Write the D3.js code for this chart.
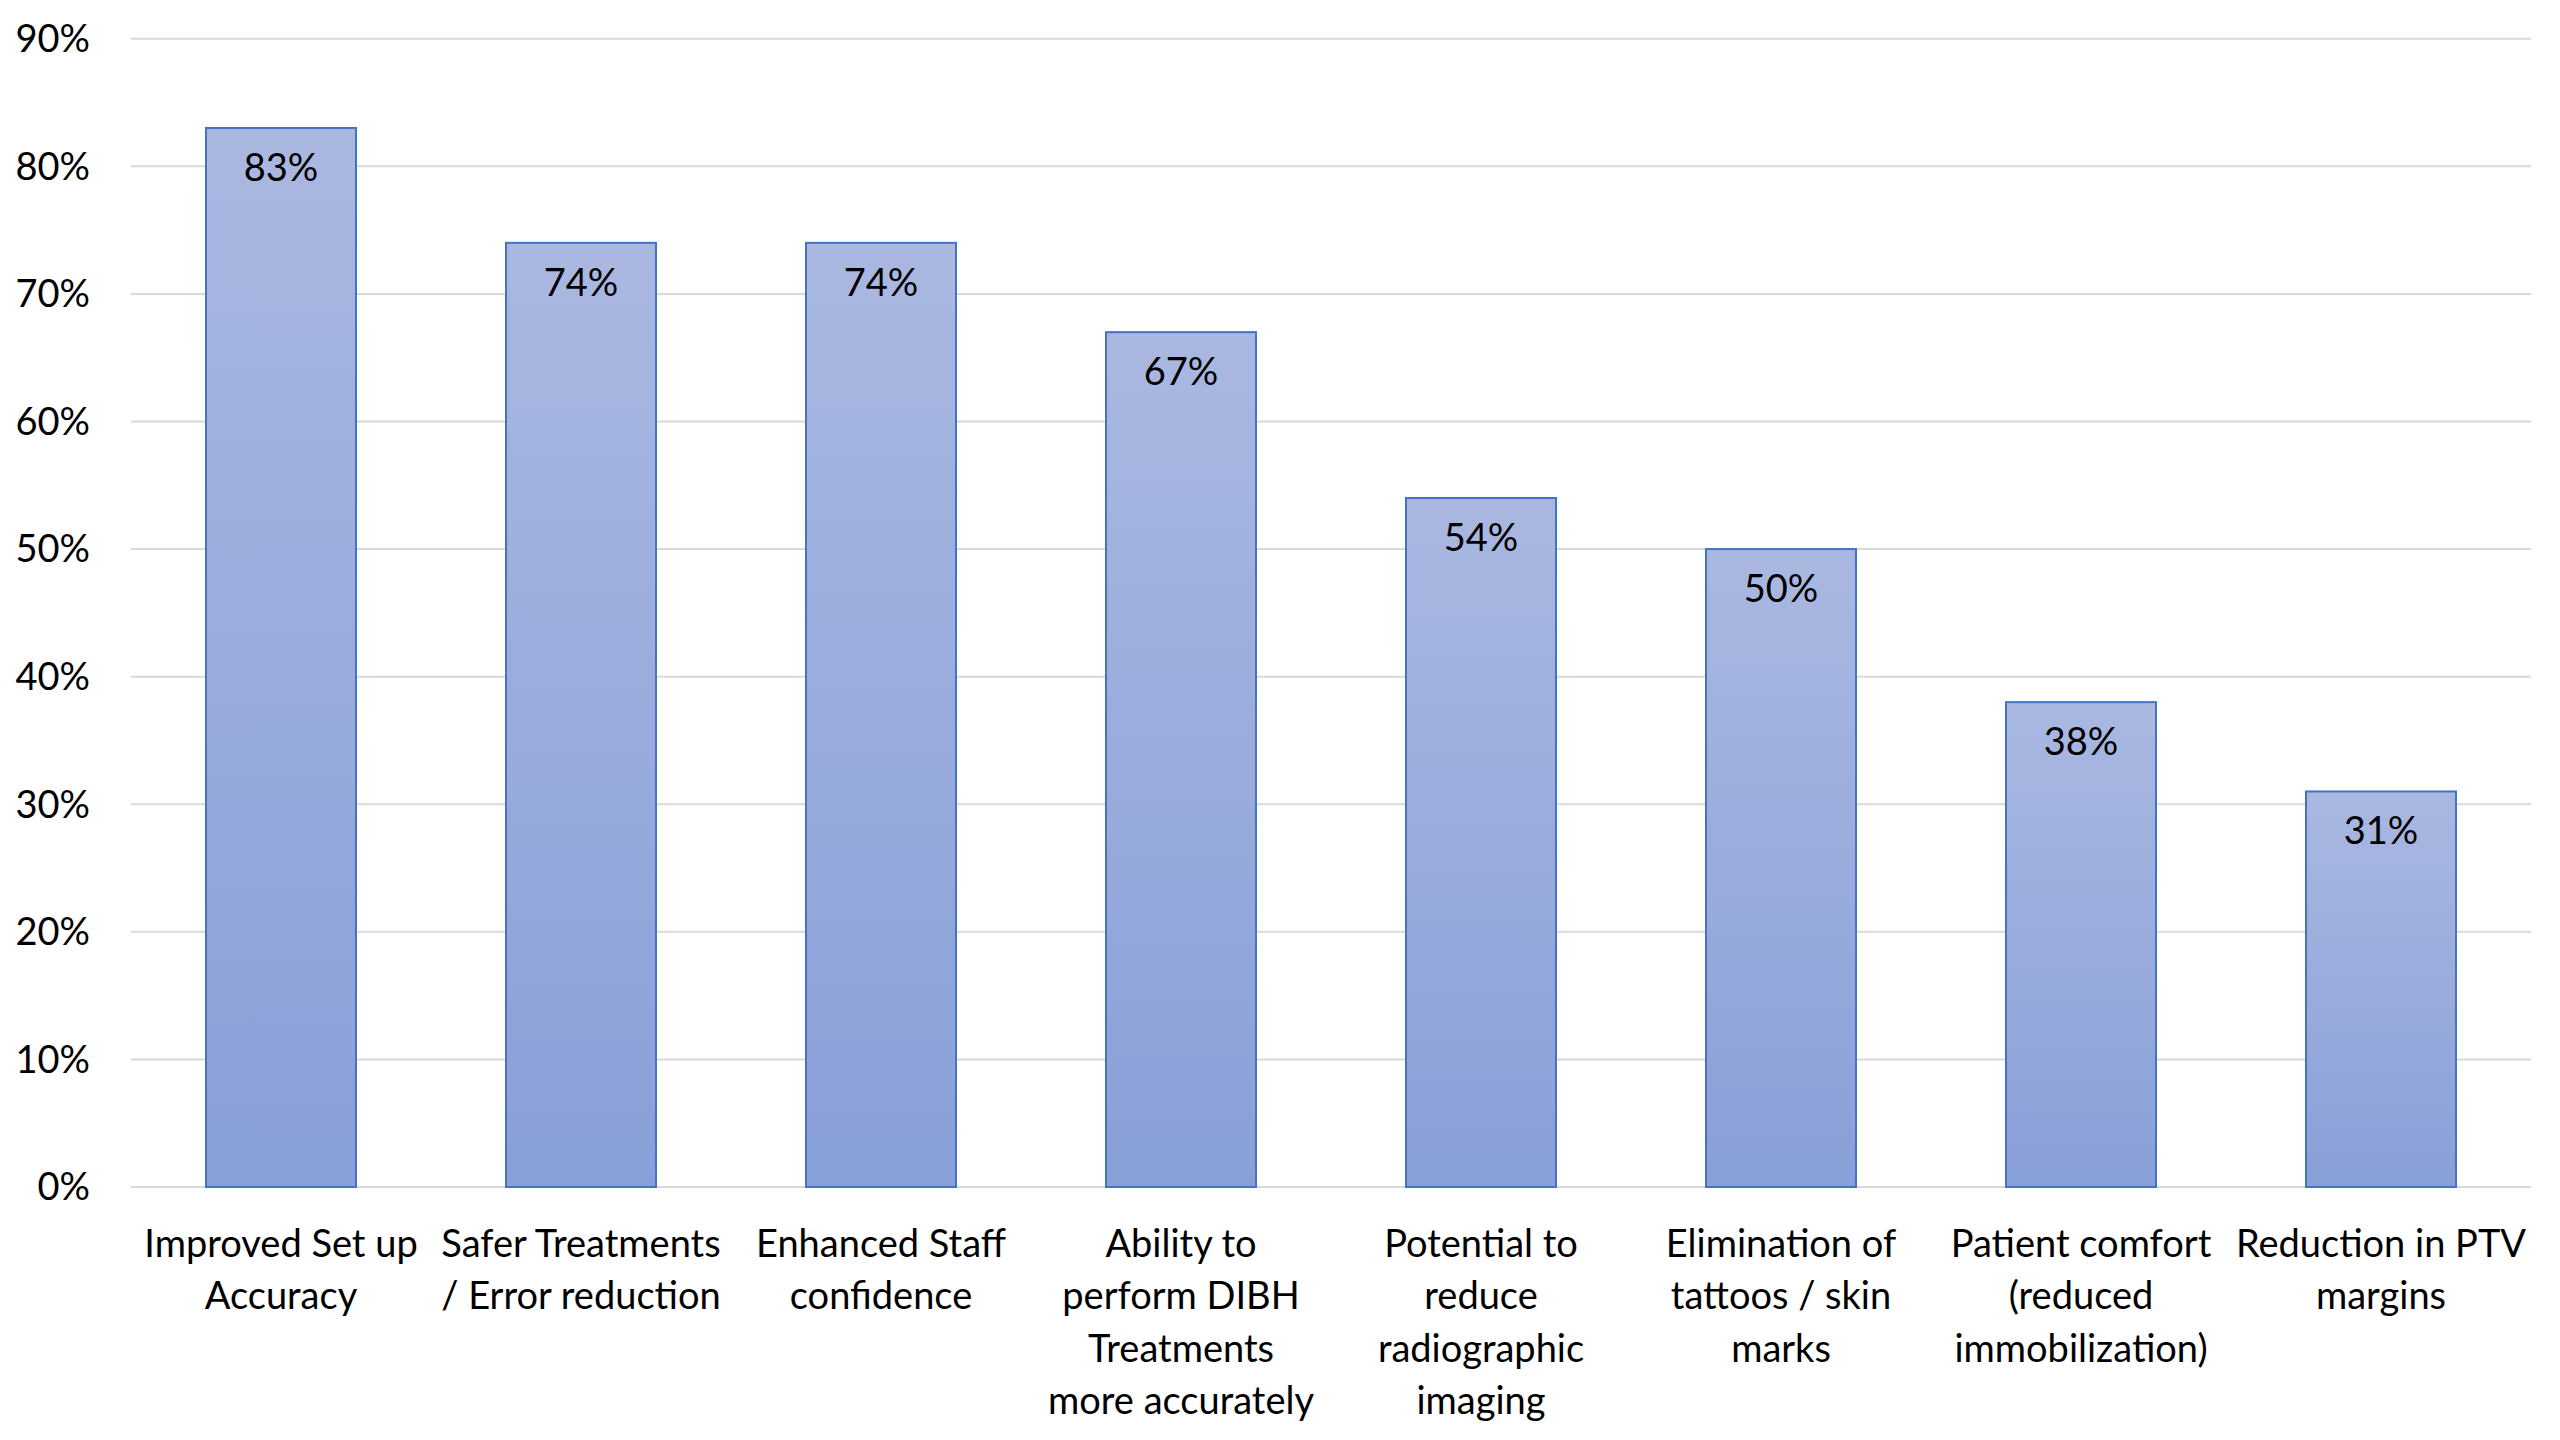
<!DOCTYPE html>
<html>
<head>
<meta charset="utf-8">
<script src="https://cdn.jsdelivr.net/npm/d3@7"></script>
<style>
  body { margin: 0; background: #fff; }
  text { font-family: Lato, "Open Sans", sans-serif; fill: #000; }
</style>
</head>
<body>
<div id="chart"></div>
<script>
var width = 2560
var height = 1440

// data
var categories = [
    ["Improved Set up", "Accuracy"],
    ["Safer Treatments", "/ Error reduction"],
    ["Enhanced Staff", "confidence"],
    ["Ability to", "perform DIBH", "Treatments", "more accurately"],
    ["Potential to", "reduce", "radiographic", "imaging"],
    ["Elimination of", "tattoos / skin", "marks"],
    ["Patient comfort", "(reduced", "immobilization)"],
    ["Reduction in PTV", "margins"]
]
var values = [83, 74, 74, 67, 54, 50, 38, 31]
var yTicks = [0, 10, 20, 30, 40, 50, 60, 70, 80, 90]

var margin = {top: 38.7, right: 29, bottom: 253, left: 131}

var svg = d3.select("#chart")
    .append("svg")
    .attr("width", width)
    .attr("height", height)

var defs = svg.append("defs")
var grad = defs.append("linearGradient")
    .attr("id", "barGrad")
    .attr("x1", 0).attr("y1", 0)
    .attr("x2", 0).attr("y2", 1)
grad.append("stop").attr("offset", "0%").attr("stop-color", "#aab8e1")
grad.append("stop").attr("offset", "100%").attr("stop-color", "#889fd7")

var x = d3.scaleBand()
    .domain(d3.range(values.length))
    .range([margin.left, width - margin.right])
    .paddingInner(0.5)
    .paddingOuter(0.25)

var y = d3.scaleLinear()
    .domain([0, 90])
    .range([height - margin.bottom, margin.top])

// gridlines
svg.append("g")
    .selectAll("line")
    .data(yTicks)
    .enter()
    .append("line")
    .attr("x1", margin.left)
    .attr("x2", width - margin.right)
    .attr("y1", d => y(d))
    .attr("y2", d => y(d))
    .attr("stroke", "#d9d9d9")
    .attr("stroke-width", 2)

// y labels
svg.append("g")
    .selectAll("text")
    .data(yTicks)
    .enter()
    .append("text")
    .attr("x", 90)
    .attr("y", d => y(d))
    .attr("dy", "0.35em")
    .attr("text-anchor", "end")
    .style("font-size", "38px")
    .text(d => d + "%")

// bars
svg.append("g")
    .selectAll("rect")
    .data(values)
    .enter()
    .append("rect")
    .attr("x", (d, i) => x(i))
    .attr("y", d => y(d))
    .attr("width", x.bandwidth())
    .attr("height", d => y(0) - y(d))
    .attr("fill", "url(#barGrad)")
    .attr("stroke", "#4472c4")
    .attr("stroke-width", 2)

// value labels
svg.append("g")
    .selectAll("text")
    .data(values)
    .enter()
    .append("text")
    .attr("x", (d, i) => x(i) + x.bandwidth() / 2)
    .attr("y", d => y(d) + 53)
    .attr("text-anchor", "middle")
    .style("font-size", "38px")
    .text(d => d + "%")

// category labels
var cat = svg.append("g")
    .selectAll("text")
    .data(categories)
    .enter()
    .append("text")
    .attr("text-anchor", "middle")
    .style("font-size", "38px")
    .attr("transform", (d, i) => "translate(" + (x(i) + x.bandwidth() / 2) + "," + 1257 + ")")

cat.selectAll("tspan")
    .data(d => d)
    .enter()
    .append("tspan")
    .attr("x", 0)
    .attr("y", (d, j) => j * 52.3)
    .text(d => d)
</script>
</body>
</html>
